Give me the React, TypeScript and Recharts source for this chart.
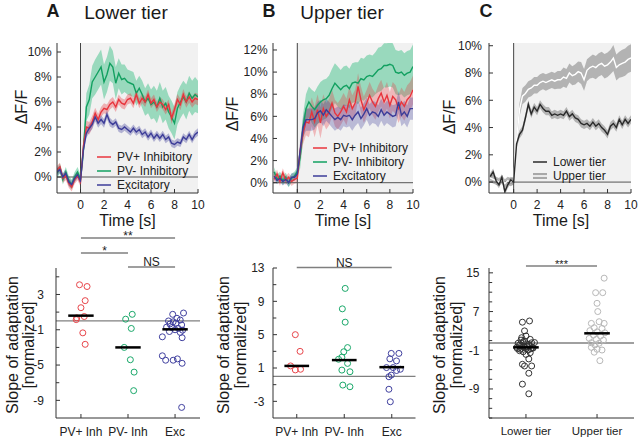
import React from "react";
import {
  ComposedChart,
  Line,
  Area,
  Scatter,
  XAxis,
  YAxis,
  ReferenceLine,
  ReferenceArea,
  Legend,
} from "recharts";

// time axis of the traces [s]
const time = [
  -2, -1.75, -1.5, -1.25, -1, -0.75, -0.5, -0.25, 0,
  0.25, 0.5, 0.75, 1, 1.25, 1.5, 1.75, 2, 2.25, 2.5,
  2.75, 3, 3.25, 3.5, 3.75, 4, 4.25, 4.5, 4.75, 5,
  5.25, 5.5, 5.75, 6, 6.25, 6.5, 6.75, 7, 7.25, 7.5,
  7.75, 8, 8.25, 8.5, 8.75, 9, 9.25, 9.5, 9.75, 10,
];

// A - lower tier, mean dF/F (%)
const lowerPvPlus = [
  0.55, 0.8, -0.1, 0.1, -0.5, -0.8, -0.2, 0.1, -0.4,
  2.5, 4.0, 3.9, 4.4, 5.1, 4.6, 5.2, 5.5, 5.4, 5.8,
  6.0, 5.6, 6.2, 5.9, 5.8, 6.2, 6.3, 5.9, 6.6, 5.9,
  6.3, 6.0, 6.6, 5.9, 6.2, 5.6, 6.0, 5.8, 5.4, 5.8,
  4.7, 5.4, 6.2, 5.8, 6.6, 6.0, 6.4, 6.0, 6.3, 6.2,
];
const lowerPvPlusErr = [
  0.35, 0.35, 0.35, 0.35, 0.35, 0.35, 0.35, 0.35, 0.35,
  0.45, 0.5, 0.5, 0.5, 0.45, 0.45, 0.4, 0.4, 0.4, 0.4,
  0.4, 0.4, 0.4, 0.4, 0.4, 0.4, 0.4, 0.4, 0.4, 0.4,
  0.4, 0.4, 0.4, 0.4, 0.4, 0.4, 0.4, 0.4, 0.4, 0.4,
  0.45, 0.45, 0.45, 0.45, 0.45, 0.45, 0.45, 0.45, 0.45, 0.45,
];
const lowerPvMinus = [
  0.3, 0.7, -0.2, 0.4, -0.3, -0.6, 0.0, 0.4, -0.2,
  2.2, 5.6, 6.2, 7.6, 8.0, 8.4, 8.8, 7.6, 8.2, 9.1,
  8.8, 7.5, 8.3, 7.8, 7.9, 7.6, 7.5, 7.4, 6.7, 7.1,
  6.6, 6.0, 6.3, 5.8, 6.0, 5.6, 6.3, 5.6, 5.9, 5.2,
  4.8, 4.3, 5.5, 6.0, 6.4, 6.0, 6.7, 6.3, 6.6, 6.4,
];
const lowerPvMinusErr = [
  0.4, 0.4, 0.4, 0.4, 0.4, 0.4, 0.4, 0.4, 0.4,
  0.9, 1.1, 1.2, 1.3, 1.4, 1.4, 1.4, 1.4, 1.4, 1.4,
  1.3, 1.3, 1.2, 1.2, 1.1, 1.0, 1.0, 1.0, 1.0, 1.0,
  1.1, 1.1, 1.2, 1.2, 1.3, 1.3, 1.3, 1.3, 1.3, 1.3,
  1.3, 1.3, 1.3, 1.3, 1.3, 1.4, 1.4, 1.4, 1.4, 1.3,
];
const lowerExc = [
  0.4, 0.6, 0.0, 0.3, -0.4, -0.6, -0.1, 0.2, -0.3,
  2.2, 3.5, 3.9, 4.2, 4.8, 4.3, 4.6, 4.3, 5.0, 4.4,
  4.2, 4.4, 3.9, 3.8, 4.0, 3.8, 3.6, 3.9, 3.6, 3.8,
  3.4, 3.6, 3.2, 3.5, 3.1, 3.4, 3.1, 3.4, 3.0, 3.2,
  2.7, 2.6, 2.8, 2.7, 3.2, 3.0, 3.4, 3.0, 3.4, 3.6,
];
const lowerExcErr = [
  0.3, 0.3, 0.3, 0.3, 0.3, 0.3, 0.3, 0.3, 0.3,
  0.3, 0.35, 0.35, 0.35, 0.35, 0.35, 0.35, 0.35, 0.35, 0.35,
  0.3, 0.3, 0.3, 0.3, 0.3, 0.3, 0.3, 0.3, 0.3, 0.3,
  0.3, 0.3, 0.3, 0.3, 0.3, 0.3, 0.3, 0.3, 0.3, 0.3,
  0.3, 0.3, 0.3, 0.3, 0.3, 0.3, 0.3, 0.3, 0.3, 0.3,
];

// B - upper tier
const upperPvPlus = [
  0.3, 0.8, 0.1, 0.9, 0.2, 0.5, 0.1, 0.3, 0.4,
  2.9, 4.5, 5.5, 5.4, 6.4, 5.5, 6.6, 5.4, 6.7, 6.0,
  6.4, 7.2, 6.3, 6.0, 6.4, 6.9, 6.4, 7.5, 6.7, 7.2,
  8.7, 7.5, 6.6, 7.2, 7.9, 7.3, 6.9, 7.6, 8.1, 7.3,
  7.9, 7.0, 7.8, 7.5, 6.7, 7.3, 6.9, 7.5, 7.8, 8.4,
];
const upperPvPlusErr = [
  0.4, 0.4, 0.4, 0.4, 0.4, 0.4, 0.4, 0.4, 0.4,
  0.8, 1.0, 1.2, 1.3, 1.3, 1.4, 1.4, 1.4, 1.3, 1.2,
  1.2, 1.2, 1.2, 1.2, 1.2, 1.2, 1.2, 1.2, 1.2, 1.2,
  1.2, 1.2, 1.2, 1.2, 1.2, 1.2, 1.2, 1.2, 1.2, 1.2,
  1.2, 1.2, 1.3, 1.3, 1.3, 1.3, 1.3, 1.3, 1.3, 1.3,
];
const upperPvMinus = [
  1.0, 0.3, 0.6, 0.2, 0.5, 0.0, 0.4, 0.6, 1.0,
  2.3, 5.0, 6.7, 7.3, 6.9, 6.6, 7.0, 7.3, 7.5, 7.6,
  7.9, 8.5, 9.0, 8.7, 8.4, 8.7, 8.8, 8.5, 9.0, 9.1,
  9.0, 9.4, 9.3, 9.6, 9.7, 9.6, 9.9, 10.2, 10.3, 10.6,
  10.6, 10.7, 10.6, 10.0, 9.9, 10.0, 9.7, 9.9, 10.0, 10.5,
];
const upperPvMinusErr = [
  0.4, 0.4, 0.4, 0.4, 0.4, 0.4, 0.4, 0.4, 0.4,
  1.0, 1.2, 1.3, 1.4, 1.5, 1.6, 1.7, 1.8, 1.8, 1.8,
  1.8, 1.8, 1.8, 1.8, 1.8, 1.8, 1.8, 1.8, 1.8, 1.8,
  1.9, 1.9, 1.9, 1.9, 1.9, 1.9, 1.9, 2.0, 2.0, 2.0,
  2.0, 2.0, 2.0, 2.0, 2.0, 2.0, 2.0, 2.0, 2.0, 2.0,
];
const upperExc = [
  0.6, 0.2, 0.4, 0.1, 0.3, 0.0, 0.5, 0.5, 0.8,
  2.9, 5.0, 5.7, 5.7, 5.7, 5.8, 6.3, 6.5, 6.1, 6.6,
  6.3, 6.0, 5.7, 5.9, 5.7, 6.1, 6.0, 6.1, 5.7, 6.1,
  6.4, 5.8, 6.2, 6.7, 6.1, 6.4, 6.3, 6.0, 6.6, 6.1,
  6.4, 6.2, 6.0, 6.1, 7.3, 6.1, 6.4, 6.0, 6.7, 6.7,
];
const upperExcErr = [
  0.35, 0.35, 0.35, 0.35, 0.35, 0.35, 0.35, 0.35, 0.35,
  0.8, 0.9, 1.0, 1.0, 1.0, 1.0, 1.0, 1.0, 1.0, 1.0,
  1.0, 1.0, 1.0, 1.0, 1.0, 1.0, 1.0, 1.0, 1.0, 1.0,
  1.0, 1.0, 1.0, 1.0, 1.0, 1.0, 1.0, 1.0, 1.0, 1.0,
  1.0, 1.0, 1.0, 1.0, 1.0, 1.0, 1.0, 1.0, 1.0, 1.0,
];

// C - tiers compared
const lowerTier = [
  0.4, 0.75, 0.1, -0.2, 0.35, -0.7, -0.2, 0.15, 0.0,
  2.8, 3.5, 3.8, 4.7, 5.7, 5.0, 5.5, 5.2, 5.7, 5.4,
  5.2, 5.2, 4.9, 5.0, 4.9, 5.0, 4.9, 5.2, 4.8, 5.0,
  4.7, 4.6, 4.3, 4.2, 4.3, 4.1, 4.4, 4.1, 4.3, 4.0,
  3.8, 3.5, 4.1, 4.3, 4.0, 4.6, 4.2, 4.6, 4.3, 4.6,
];
const lowerTierErr = [
  0.25, 0.25, 0.25, 0.25, 0.25, 0.25, 0.25, 0.25, 0.25,
  0.3, 0.3, 0.3, 0.3, 0.3, 0.3, 0.3, 0.3, 0.3, 0.3,
  0.3, 0.3, 0.3, 0.3, 0.3, 0.3, 0.3, 0.3, 0.3, 0.3,
  0.3, 0.3, 0.3, 0.3, 0.3, 0.3, 0.3, 0.3, 0.3, 0.3,
  0.3, 0.3, 0.3, 0.3, 0.3, 0.3, 0.3, 0.3, 0.3, 0.3,
];
const upperTier = [
  0.3, 0.2, 0.1, 0.0, 0.2, -0.1, 0.1, 0.0, 0.1,
  3.1, 5.3, 6.3, 6.5, 6.8, 6.9, 7.1, 7.1, 7.3, 7.4,
  7.3, 7.4, 7.5, 7.4, 7.5, 7.5, 7.7, 7.6, 8.0, 7.8,
  7.9, 8.1, 8.0, 7.5, 8.2, 8.4, 8.5, 8.4, 8.6, 8.7,
  8.5, 8.6, 8.8, 9.1, 8.4, 8.6, 8.7, 8.8, 9.0, 9.1,
];
const upperTierErr = [
  0.3, 0.3, 0.3, 0.3, 0.3, 0.3, 0.3, 0.3, 0.3,
  0.4, 0.5, 0.6, 0.6, 0.6, 0.6, 0.6, 0.6, 0.6, 0.6,
  0.6, 0.6, 0.6, 0.6, 0.65, 0.65, 0.7, 0.7, 0.7, 0.7,
  0.75, 0.75, 0.8, 0.8, 0.8, 0.8, 0.85, 0.85, 0.85, 0.85,
  0.9, 0.9, 0.9, 0.95, 0.95, 0.95, 1.0, 1.0, 1.0, 1.0,
];

// slopes of adaptation (normalized), with horizontal jitter of each dot
const groupsA = ["PV+ Inh", "PV- Inh", "Exc"];
const aPvPlusSlope = [4.1, 3.9, 2.3, 1.5, 0.5, 0.35, 0.15, -1.35, -2.65];
const aPvPlusJit = [-0.03, 0.13, 0.09, 0.0, 0.07, -0.09, -0.1, 0.04, 0.09];
const aPvMinusSlope = [0.75, 0.2, -0.85, -3.0, -4.4, -5.8, -7.9];
const aPvMinusJit = [0.09, -0.05, 0.07, -0.08, 0.05, 0.13, 0.12];
const aExcSlope = [
  0.9, 0.75, 0.3, 0.1, 0.0, -0.1, -0.25, -0.35, -0.45, -0.7,
  -0.75, -0.85, -1.0, -1.05, -1.2, -1.3, -1.8, -1.9, -3.95, -4.3,
  -4.45, -4.45, -4.8, -9.8,
];
const aExcJit = [
  0.18, -0.05, 0.04, 0.11, -0.14, -0.04, 0.02, -0.11, 0.14, -0.18,
  -0.07, 0.07, 0.0, 0.16, -0.12, 0.11, -0.27, 0.15, -0.27, 0.05,
  -0.2, -0.04, 0.15, 0.14,
];
const aMedians = [0.6, -3.0, -0.95];
const aYTicks = [-9, -5, -1, 3];
const aYMinor = [-7, -3, 1, 5];

const bPvPlusSlope = [5.0, 3.0, 1.25, 0.77, 0.85];
const bPvPlusJit = [-0.03, 0.07, -0.13, -0.03, 0.08];
const bPvMinusSlope = [10.55, 8.1, 6.5, 3.45, 2.95, 2.3, 2.05, 1.55, 0.75, 0.55, -1.05, -1.25];
const bPvMinusJit = [0.02, -0.04, 0.02, 0.07, -0.01, -0.05, -0.12, 0.07, -0.05, 0.12, -0.03, 0.12];
const bExcSlope = [2.75, 2.75, 2.1, 1.85, 1.05, 1.05, 0.85, 0.7, 0.15, -0.05, -1.55, -3.05];
const bExcJit = [-0.01, 0.15, -0.04, 0.1, -0.11, 0.03, 0.18, 0.1, -0.01, -0.06, -0.06, -0.03];
const bMedians = [1.25, 1.95, 1.1];
const bYTicks = [-3, 1, 5, 9, 13];
const bYMinor = [-1, 3, 7, 11];

const groupsC = ["Lower tier", "Upper tier"];
const cLowerSlope = [
  5.05, 4.8, 3.0, 1.95, 1.25, 1.1, 0.75, 0.55, 0.45, 0.3,
  0.1, -0.05, -0.1, -0.3, -0.4, -0.45, -0.4, -0.6, -0.7, -0.8,
  -0.95, -1.3, -1.5, -1.85, -2.8, -3.9, -4.25, -4.25, -5.75, -8.0,
  -10.0, 0.9, 0.2, -0.2, -0.55, -1.1, 0.6, -0.65, 1.6,
];
const cLowerJit = [
  0.05, -0.05, -0.02, 0.0, 0.06, -0.07, -0.04, 0.08, -0.11, 0.01,
  -0.09, -0.06, 0.05, 0.02, -0.13, -0.01, 0.09, -0.06, 0.07, -0.08,
  0.03, -0.04, 0.06, 0.0, 0.04, -0.05, -0.02, 0.08, 0.04, -0.05,
  0.04, -0.02, 0.04, -0.03, 0.1, -0.09, 0.12, -0.12, -0.06,
];
const cUpperSlope = [
  13.9, 10.9, 10.9, 8.7, 7.0, 4.9, 4.55, 4.55, 3.65, 3.5,
  3.05, 2.8, 2.6, 2.15, 1.95, 1.45, 1.25, 1.1, 0.55, 0.45,
  0.1, -0.4, -0.8, -0.95, -1.4, -3.15,
];
const cUpperJit = [
  0.1, -0.02, 0.08, 0.0, 0.01, 0.03, -0.08, 0.1, -0.04, 0.07,
  -0.1, 0.0, 0.11, -0.05, 0.05, -0.11, -0.01, 0.09, -0.08, 0.03,
  -0.03, -0.08, 0.0, 0.07, -0.04, 0.04,
];
const cMedians = [-0.4, 2.5];
const cYTicks = [-9, -1, 7, 15];
const cYMinor = [-15, -13, -11, -7, -5, -3, 1, 3, 5, 9, 11, 13];

const RED = "#e8343c";
const GREEN = "#12a060";
const BLUE = "#3c3c98";

type Trace = { key: string; name: string; values: number[]; err: number[]; color: string; band: string; bandOpacity: number };

function buildRows(traces: Trace[]) {
  return time.map((t, i) => {
    const row: Record<string, any> = { t };
    traces.forEach((tr) => {
      row[tr.key] = tr.values[i];
      row[tr.key + "Band"] = [tr.values[i] - tr.err[i], tr.values[i] + tr.err[i]];
    });
    return row;
  });
}

function makeLegend(order: string[], bandIcons: Record<string, string> = {}) {
  return function LegendContent(props: any) {
    const payload: any[] = props.payload || [];
    return (
      <div style={{ fontSize: 12, lineHeight: "14px", color: "#222", whiteSpace: "nowrap" }}>
        {order.map((name) => {
          const item = payload.find((p) => p.value === name);
          if (!item) return null;
          const band = bandIcons[name];
          return (
            <div key={name} style={{ height: 14, display: "flex", alignItems: "center" }}>
              <svg width={20} height={14} style={{ display: "block" }}>
                {band && <rect x={0} y={4} width={14} height={6} fill={band} />}
                <line x1={0} x2={14} y1={7} y2={7} stroke={item.color} strokeWidth={1.5} />
              </svg>
              <span>{name}</span>
            </div>
          );
        })}
      </div>
    );
  };
}

const axisStyle = { stroke: "#333" };
const tickStyle = { fill: "#222", fontSize: 12 };

function TracePanel(props: {
  traces: Trace[];
  legendOrder: string[];
  width: number;
  margin: { top: number; right: number; bottom: number; left: number };
  xDomain: [number, number];
  yDomain: [number, number];
  yTicks: number[];
  yTickMargin: number;
  legendPos: { left: number; top: number };
  bandIcons?: Record<string, string>;
}) {
  const rows = buildRows(props.traces);
  return (
    <ComposedChart width={props.width} height={230} data={rows} margin={props.margin}>
      <ReferenceArea x1={0} x2={10} fill="#f1f1f1" fillOpacity={1} stroke="none" zIndex={-100} />
      <XAxis
        type="number"
        dataKey="t"
        domain={props.xDomain}
        ticks={[0, 2, 4, 6, 8, 10]}
        interval={0}
        allowDataOverflow
        height={30}
        tickSize={-4}
        tickMargin={11}
        axisLine={axisStyle}
        tickLine={axisStyle}
        tick={tickStyle}
      />
      <YAxis
        type="number"
        domain={props.yDomain}
        ticks={props.yTicks}
        interval={0}
        allowDataOverflow
        width={40}
        tickSize={-4}
        tickMargin={props.yTickMargin}
        tickFormatter={(v) => `${v}%`}
        axisLine={axisStyle}
        tickLine={axisStyle}
        tick={tickStyle}
      />
      {props.traces.map((tr) => (
        <Area
          key={tr.key + "Band"}
          dataKey={tr.key + "Band"}
          stroke="none"
          fill={tr.band}
          fillOpacity={tr.bandOpacity}
          legendType="none"
          isAnimationActive={false}
          activeDot={false}
        />
      ))}
      <ReferenceLine x={0} stroke="#444" strokeWidth={1} />
      <ReferenceLine y={0} stroke="#555" strokeWidth={1} />
      {props.traces.map((tr) => (
        <Line
          key={tr.key}
          dataKey={tr.key}
          name={tr.name}
          stroke={tr.color}
          strokeWidth={1.4}
          dot={false}
          activeDot={false}
          isAnimationActive={false}
        />
      ))}
      <Legend
        layout="vertical"
        align="center"
        verticalAlign="middle"
        content={makeLegend(props.legendOrder, props.bandIcons)}
        wrapperStyle={{ left: props.legendPos.left, top: props.legendPos.top, width: "auto", height: "auto" }}
      />
    </ComposedChart>
  );
}

type Group = { slopes: number[]; jitter: number[]; color: string };
type Sig = { from: number; to: number; y: number; text: string; offset: number; size: number };

function SlopePanel(props: {
  width: number;
  margin: { top: number; right: number; bottom: number; left: number };
  categories: string[];
  catFont: number;
  groups: Group[];
  medians: number[];
  medianHalf: number;
  xDomain: [number, number];
  yDomain: [number, number];
  yTicks: number[];
  yMinor: number[];
  tickLen: number;
  yTickMargin: number;
  zeroY: number;
  sigs: Sig[];
}) {
  const x0 = props.xDomain[0];
  return (
    <ComposedChart width={props.width} height={229} margin={props.margin}>
      <XAxis
        type="number"
        dataKey="x"
        domain={props.xDomain}
        ticks={props.categories.map((_, i) => i + 1)}
        interval={0}
        height={20}
        tickSize={-4}
        tickMargin={13}
        tickFormatter={(v) => props.categories[v - 1] ?? ""}
        axisLine={axisStyle}
        tickLine={axisStyle}
        tick={{ fill: "#222", fontSize: props.catFont }}
      />
      <YAxis
        type="number"
        dataKey="y"
        domain={props.yDomain}
        ticks={props.yTicks}
        interval={0}
        width={40}
        tickSize={-4}
        tickMargin={props.yTickMargin}
        axisLine={axisStyle}
        tickLine={axisStyle}
        tick={tickStyle}
      />
      {/* unlabelled inward minor ticks */}
      {props.yMinor.map((v) => (
        <ReferenceLine
          key={"minor" + v}
          segment={[
            { x: x0, y: v },
            { x: x0 + props.tickLen, y: v },
          ]}
          stroke="#333"
          strokeWidth={1}
        />
      ))}
      <ReferenceLine y={props.zeroY} stroke="#808080" strokeWidth={1.3} />
      {props.groups.map((g, gi) => (
        <Scatter
          key={gi}
          data={g.slopes.map((s, i) => ({ x: gi + 1 + g.jitter[i], y: s }))}
          isAnimationActive={false}
          shape={(p: any) => (
            <circle cx={p.cx} cy={p.cy} r={3} fill="none" stroke={g.color} strokeWidth={1} />
          )}
        />
      ))}
      {props.medians.map((m, i) => (
        <ReferenceLine
          key={"med" + i}
          segment={[
            { x: i + 1 - props.medianHalf, y: m },
            { x: i + 1 + props.medianHalf, y: m },
          ]}
          stroke="#000"
          strokeWidth={2.5}
          zIndex={700}
        />
      ))}
      {props.sigs.map((s, i) => (
        <ReferenceLine
          key={"sig" + i}
          segment={[
            { x: s.from, y: s.y },
            { x: s.to, y: s.y },
          ]}
          ifOverflow="visible"
          stroke="#7f7f7f"
          strokeWidth={1.5}
          label={{ value: s.text, position: "top", offset: s.offset, fontSize: s.size, fill: "#222" }}
        />
      ))}
    </ComposedChart>
  );
}

function Txt(props: { x: number; y: number; size: number; bold?: boolean; rotate?: boolean; lineHeight?: number; children: React.ReactNode }) {
  return (
    <div
      style={{
        position: "absolute",
        left: props.x,
        top: props.y,
        transform: `translate(-50%, -50%)${props.rotate ? " rotate(-90deg)" : ""}`,
        fontSize: props.size,
        fontWeight: props.bold ? "bold" : "normal",
        lineHeight: props.lineHeight ? `${props.lineHeight}px` : 1,
        whiteSpace: "nowrap",
        textAlign: "center",
        color: "#1a1a1a",
        pointerEvents: "none",
      }}
    >
      {props.children}
    </div>
  );
}

export default function App() {
  const tracesA: Trace[] = [
    { key: "pvm", name: "PV- Inhibitory", values: lowerPvMinus, err: lowerPvMinusErr, color: GREEN, band: "#1fb774", bandOpacity: 0.42 },
    { key: "pvp", name: "PV+ Inhibitory", values: lowerPvPlus, err: lowerPvPlusErr, color: RED, band: RED, bandOpacity: 0.35 },
    { key: "exc", name: "Excitatory", values: lowerExc, err: lowerExcErr, color: BLUE, band: BLUE, bandOpacity: 0.35 },
  ];
  const tracesB: Trace[] = [
    { key: "pvm", name: "PV- Inhibitory", values: upperPvMinus, err: upperPvMinusErr, color: GREEN, band: "#1fb774", bandOpacity: 0.42 },
    { key: "pvp", name: "PV+ Inhibitory", values: upperPvPlus, err: upperPvPlusErr, color: RED, band: RED, bandOpacity: 0.3 },
    { key: "exc", name: "Excitatory", values: upperExc, err: upperExcErr, color: BLUE, band: BLUE, bandOpacity: 0.3 },
  ];
  const tracesC: Trace[] = [
    { key: "up", name: "Upper tier", values: upperTier, err: upperTierErr, color: "#ffffff", band: "#a8a8a8", bandOpacity: 0.85 },
    { key: "lo", name: "Lower tier", values: lowerTier, err: lowerTierErr, color: "#2a2a2a", band: "#8a8a8a", bandOpacity: 0.6 },
  ];
  const orderAB = ["PV+ Inhibitory", "PV- Inhibitory", "Excitatory"];
  const orderC = ["Lower tier", "Upper tier"];

  return (
    <div
      style={{
        position: "absolute",
        left: 0,
        top: 0,
        width: 640,
        height: 439,
        background: "#fff",
        overflow: "hidden",
        fontFamily: '"Liberation Sans", Arial, sans-serif',
      }}
    >
      <Txt x={53} y={11} size={18} bold>A</Txt>
      <Txt x={126} y={11.5} size={19}>Lower tier</Txt>
      <Txt x={269} y={11} size={18} bold>B</Txt>
      <Txt x={342} y={11.5} size={19}>Upper tier</Txt>
      <Txt x={486} y={11} size={18} bold>C</Txt>

      <Txt x={22} y={107} size={16} rotate>ΔF/F</Txt>
      <Txt x={233} y={114} size={16} rotate>ΔF/F</Txt>
      <Txt x={450} y={117} size={16} rotate>ΔF/F</Txt>
      <Txt x={127.5} y={221} size={16}>Time [s]</Txt>
      <Txt x={343} y={221} size={16}>Time [s]</Txt>
      <Txt x={561} y={221} size={16}>Time [s]</Txt>

      <Txt x={21} y={345} size={16} rotate lineHeight={16}>
        Slope of adaptation
        <br />
        [normalized]
      </Txt>
      <Txt x={232} y={345} size={16} rotate lineHeight={17}>
        Slope of adaptation
        <br />
        [normalized]
      </Txt>
      <Txt x={448} y={345} size={16} rotate lineHeight={17}>
        Slope of adaptation
        <br />
        [normalized]
      </Txt>

      {/* top row: traces */}
      <div style={{ position: "absolute", left: 0, top: 0 }}>
        <TracePanel
          traces={tracesA}
          legendOrder={orderAB}
          width={210}
          margin={{ top: 43, right: 12, bottom: 7, left: 17 }}
          xDomain={[-2, 10]}
          yDomain={[-1.28, 10.72]}
          yTicks={[0, 2, 4, 6, 8, 10]}
          yTickMargin={9.3}
          legendPos={{ left: 97, top: 150 }}
        />
      </div>
      <div style={{ position: "absolute", left: 210, top: 0 }}>
        <TracePanel
          traces={tracesB}
          legendOrder={orderAB}
          width={210}
          margin={{ top: 43, right: 7, bottom: 7, left: 23 }}
          xDomain={[-2.1, 10]}
          yDomain={[-0.93, 12.63]}
          yTicks={[0, 2, 4, 6, 8, 10, 12]}
          yTickMargin={9.4}
          legendPos={{ left: 103, top: 141 }}
        />
      </div>
      <div style={{ position: "absolute", left: 420, top: 0 }}>
        <TracePanel
          traces={tracesC}
          legendOrder={orderC}
          width={220}
          margin={{ top: 43, right: 9, bottom: 7, left: 29 }}
          xDomain={[-2.1, 10]}
          yDomain={[-0.8, 10.2]}
          yTicks={[0, 2, 4, 6, 8, 10]}
          yTickMargin={11}
          legendPos={{ left: 113, top: 155 }}
          bandIcons={{ "Upper tier": "#a8a8a8" }}
        />
      </div>

      {/* bottom row: slopes */}
      <div style={{ position: "absolute", left: 0, top: 210 }}>
        <SlopePanel
          width={210}
          margin={{ top: 58, right: 10, bottom: 1, left: 16 }}
          categories={groupsA}
          catFont={12}
          groups={[
            { slopes: aPvPlusSlope, jitter: aPvPlusJit, color: "#e8464b" },
            { slopes: aPvMinusSlope, jitter: aPvMinusJit, color: "#1aa86a" },
            { slopes: aExcSlope, jitter: aExcJit, color: "#40409f" },
          ]}
          medians={aMedians}
          medianHalf={0.27}
          xDomain={[0.47, 3.53]}
          yDomain={[-11, 6]}
          yTicks={aYTicks}
          yMinor={aYMinor}
          tickLen={0.07}
          yTickMargin={16}
          zeroY={0}
          sigs={[
            { from: 1, to: 3, y: 9.4, text: "**", offset: -2, size: 12 },
            { from: 1, to: 2, y: 7.7, text: "*", offset: -2, size: 12 },
            { from: 2, to: 3, y: 6.1, text: "NS", offset: 1, size: 12 },
          ]}
        />
      </div>
      <div style={{ position: "absolute", left: 210, top: 210 }}>
        <SlopePanel
          width={210}
          margin={{ top: 58, right: 4.5, bottom: 1, left: 23 }}
          categories={groupsA}
          catFont={12}
          groups={[
            { slopes: bPvPlusSlope, jitter: bPvPlusJit, color: "#e8464b" },
            { slopes: bPvMinusSlope, jitter: bPvMinusJit, color: "#1aa86a" },
            { slopes: bExcSlope, jitter: bExcJit, color: "#40409f" },
          ]}
          medians={bMedians}
          medianHalf={0.26}
          xDomain={[0.5, 3.5]}
          yDomain={[-5, 13]}
          yTicks={bYTicks}
          yMinor={bYMinor}
          tickLen={0.07}
          yTickMargin={12.5}
          zeroY={0}
          sigs={[{ from: 1, to: 3, y: 13.05, text: "NS", offset: 1, size: 12 }]}
        />
      </div>
      <div style={{ position: "absolute", left: 420, top: 210 }}>
        <SlopePanel
          width={220}
          margin={{ top: 58, right: 6, bottom: 1, left: 29 }}
          categories={groupsC}
          catFont={11.5}
          groups={[
            { slopes: cLowerSlope, jitter: cLowerJit, color: "#333333" },
            { slopes: cUpperSlope, jitter: cUpperJit, color: "#b8b8b8" },
          ]}
          medians={cMedians}
          medianHalf={0.18}
          xDomain={[0.48, 2.52]}
          yDomain={[-15, 16]}
          yTicks={cYTicks}
          yMinor={cYMinor}
          tickLen={0.045}
          yTickMargin={13.5}
          zeroY={0.5}
          sigs={[{ from: 1, to: 2, y: 16.4, text: "***", offset: -2, size: 11 }]}
        />
      </div>
    </div>
  );
}
